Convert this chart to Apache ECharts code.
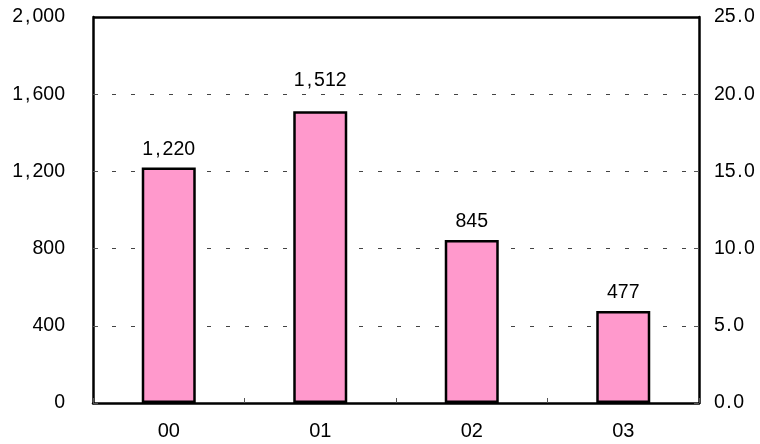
<!DOCTYPE html>
<html>
<head>
<meta charset="utf-8">
<script src="https://cdn.jsdelivr.net/npm/echarts@6/dist/echarts.min.js"></script>
<style>
  html, body { margin: 0; padding: 0; background: #fff; }
  #chart { width: 760px; height: 444px; }
</style>
</head>
<body>
<div id="chart"></div>
<script>
// data
const categories = ["00", "01", "02", "03"];
const values = [1220, 1512, 845, 477];
const leftTicks = [0, 400, 800, 1200, 1600, 2000];
const rightTicks = [0, 5, 10, 15, 20, 25];

const chart = echarts.init(document.getElementById("chart"));

// punctuation gets a bit of room on each side, like the original's wide comma/period
const spaced = (s) =>
  s.replace(/(\d+)/g, "{d|$1}").replace(/,/g, "{c|,}").replace(/\./g, "{p|.}");
const richText = (size) => ({
  d: { fontSize: size, color: "#000" },
  c: { fontSize: size, color: "#000", padding: [0, 2, 0, 2] },
  p: { fontSize: size, color: "#000", padding: [0, 1.5, 0, 1.5] }
});
const fmtThousands = (v) => spaced(v.toLocaleString("en-US"));

// the 1,512 label sits higher than the others in the original
const barData = values.map((v, i) =>
  i === 1 ? { value: v, label: { distance: 21 } } : v
);

const option = {
  animation: false,
  textStyle: { fontFamily: "Liberation Sans, Arial, sans-serif" },
  grid: { left: 93, right: 61, top: 17, bottom: 41 },
  xAxis: {
    type: "category",
    data: categories,
    axisLine: { lineStyle: { color: "#000", width: 2.5 } },
    axisTick: { show: true, inside: true, length: 5, lineStyle: { color: "#555", width: 1 } },
    axisLabel: { color: "#000", fontSize: 20, margin: 18 },
    splitLine: { show: false }
  },
  yAxis: [
    {
      type: "value",
      min: leftTicks[0],
      max: leftTicks[leftTicks.length - 1],
      interval: 400,
      axisLine: { show: true, lineStyle: { color: "#000", width: 2.5 } },
      axisTick: { show: true, inside: true, length: 5, lineStyle: { color: "#555" } },
      axisLabel: { color: "#000", fontSize: 19.5, margin: 28, formatter: fmtThousands, rich: richText(19.5) },
      splitLine: { show: true, lineStyle: { color: "#444", type: [4, 15], width: 1 } }
    },
    {
      type: "value",
      min: rightTicks[0],
      max: rightTicks[rightTicks.length - 1],
      interval: 5,
      position: "right",
      axisLine: { show: true, lineStyle: { color: "#000", width: 2.5 } },
      axisTick: { show: true, inside: true, length: 5, lineStyle: { color: "#555" } },
      axisLabel: { color: "#000", fontSize: 19.5, margin: 15, formatter: (v) => spaced(v.toFixed(1)), rich: richText(19.5) },
      splitLine: { show: false }
    }
  ],
  series: [
    {
      type: "bar",
      data: barData,
      barWidth: 54,
      itemStyle: { color: "#FF99CC", borderColor: "#000", borderWidth: 2.5 },
      label: {
        show: true,
        position: "top",
        distance: 8,
        color: "#000",
        fontSize: 19.5,
        formatter: (p) => fmtThousands(p.value),
        rich: richText(19.5)
      }
    },
    // top border line of the plot
    {
      type: "line",
      yAxisIndex: 1,
      data: [],
      markLine: {
        silent: true,
        symbol: "none",
        label: { show: false },
        lineStyle: { color: "#000", width: 2.5, type: "solid" },
        data: [{ yAxis: 25 }]
      }
    }
  ]
};

chart.setOption(option);
</script>
</body>
</html>
